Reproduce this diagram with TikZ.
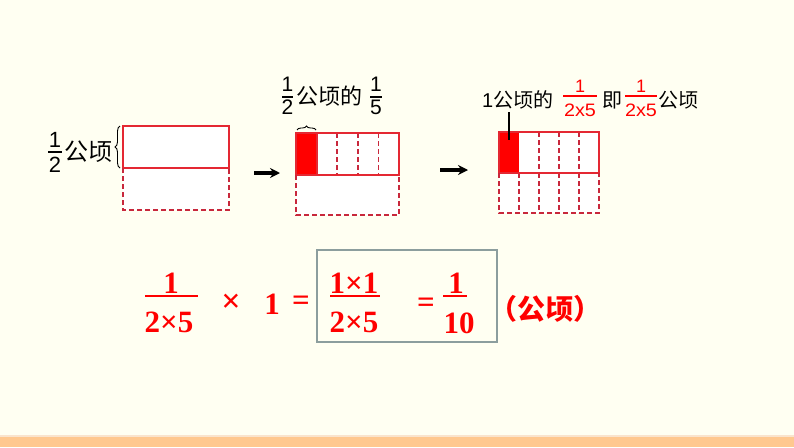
\documentclass[tikz,border=0pt]{standalone}
\usepackage{fontspec}
\setmainfont{Liberation Sans}
\newfontfamily\cjk{Noto Sans CJK SC}
\newfontfamily\tnr{Liberation Serif}
\usetikzlibrary{decorations.pathreplacing,arrows.meta}
\newcommand\fsz[1]{\fontsize{#1}{#1}\selectfont}
\definecolor{bg}{RGB}{255,255,242}
\definecolor{boxred}{RGB}{228,40,50}
\definecolor{dashred}{RGB}{200,40,60}
\definecolor{framegray}{RGB}{140,158,158}
\definecolor{barorange}{RGB}{255,200,143}
\definecolor{barlight}{RGB}{250,228,205}
\tikzset{
  txt/.style={inner sep=0pt, outer sep=0pt},
  solidbox/.style={draw=boxred, line width=1.9pt},
  dashline/.style={draw=dashred, line width=1.5pt, dash pattern=on 5pt off 3pt},
  fracbar/.style={line width=1.4pt},
  redbar/.style={draw=red, line width=1.6pt},
  eqbar/.style={draw=red, line width=2.8pt},
  eq/.style={txt, text=red, font=\tnr\bfseries\fsz{31}},
  bracestyle/.style={decorate, decoration={brace, amplitude=5pt}, line width=0.9pt},
  flow/.style={-{Stealth[length=10pt,width=10pt]}, line width=3.6pt}
}
\begin{document}
\begin{tikzpicture}[x=1pt,y=-1pt]
\useasboundingbox (0,0) rectangle (794,447);
\fill[bg] (0,0) rectangle (794,447);
\fill[barlight] (0,435) rectangle (794,437);
\fill[barorange] (0,437) rectangle (794,447);

% ---- picture 1
\node[txt, font=\fsz{22}] (a1n) at (55,140) {1};
\node[txt, font=\fsz{22}] (a1d) at (55,165) {2};
\draw[fracbar] (48,152) -- (62,152);
\node[txt, font=\cjk\fsz{24}, anchor=west] (a1t) at (64,152) {公顷};
\fill[white] (123,126) rectangle (229,210);
\draw[solidbox] (123,126) rectangle (229,168);
\draw[dashline] (123,168) -- (123,210) -- (229,210) -- (229,168);
\coordinate (b1a) at (120,168);
\coordinate (b1b) at (120,126);
\draw[bracestyle] (b1a) -- (b1b);

% ---- arrow 1
\coordinate (r1a) at (254,173);
\coordinate (r1b) at (280,173);
\draw[flow] (r1a) -- (r1b);

% ---- picture 2
\node[txt, font=\fsz{21}] (a2n) at (287.5,84) {1};
\node[txt, font=\fsz{21}] (a2d) at (287.5,107.5) {2};
\draw[fracbar] (282,97) -- (293,97);
\node[txt, font=\cjk\fsz{22}, anchor=west] (a2t) at (296,96) {公顷的};
\node[txt, font=\fsz{21}] (a2n2) at (376,84) {1};
\node[txt, font=\fsz{21}] (a2d2) at (376,107.5) {5};
\draw[fracbar] (370,97) -- (382,97);
\fill[white] (296,133) rectangle (399,215);
\fill[red] (296,133) rectangle (316.6,175);
\foreach \xx in {337.2,357.8,378.4} \draw[dashline] (\xx,133) -- (\xx,175);
\draw[solidbox] (296,133) rectangle (399,175);
\draw[solidbox] (316.6,133) -- (316.6,175);
\draw[dashline] (296,175) -- (296,215) -- (399,215) -- (399,175);
\coordinate (b2a) at (297,130);
\coordinate (b2b) at (316,130);
\draw[bracestyle, decoration={amplitude=4pt}] (b2a) -- (b2b);

% ---- arrow 2
\coordinate (r2a) at (440,170);
\coordinate (r2b) at (468,170);
\draw[flow] (r2a) -- (r2b);

% ---- picture 3
\node[txt, font=\fsz{20}, anchor=west] (a3a) at (482,100) {1\cjk 公顷的};
\node[txt, font=\fsz{18}, text=red] (a3n) at (580,86) {1};
\node[txt, font=\fsz{18}, text=red] (a3d) at (580,110.5) {\scalebox{1.1}[1]{2x5}};
\draw[redbar] (563,96) -- (597,96);
\node[txt, font=\cjk\fsz{20}, anchor=west] (a3j) at (602,100) {即};
\node[txt, font=\fsz{18}, text=red] (a3n2) at (641,86) {1};
\node[txt, font=\fsz{18}, text=red] (a3d2) at (641,110.5) {\scalebox{1.1}[1]{2x5}};
\draw[redbar] (625,96) -- (657,96);
\node[txt, font=\cjk\fsz{20}, anchor=west] (a3t) at (658,100) {公顷};
\fill[white] (499,132) rectangle (599,213);
\fill[red] (499,132) rectangle (519,173);
\foreach \xx in {519,539,559,579} \draw[dashline] (\xx,173) -- (\xx,213);
\foreach \xx in {539,559,579} \draw[dashline] (\xx,132) -- (\xx,173);
\draw[solidbox] (499,132) rectangle (599,173);
\draw[dashline] (499,173) -- (499,213) -- (599,213) -- (599,173);
\coordinate (p3) at (509,140);
\draw[line width=1.4pt] (509,112) -- (p3);

% ---- equation
\node[eq] (e1n) at (171,283) {1};
\node[eq] (e1d) at (169,322) {2×5};
\draw[eqbar] (145,296) -- (198,296);
\node[eq, font=\tnr\bfseries\fsz{34}] (etimes) at (231,303) {×};
\node[eq] (eone) at (272,304) {1};
\node[eq] (eeq1) at (301,303) {=};
\node[draw=framegray, line width=2pt, minimum width=180pt, minimum height=92pt, inner sep=0pt] (frame) at (407,296) {};
\node[eq] (e2n) at (354,283) {1×1};
\node[eq] (e2d) at (354,322) {2×5};
\draw[eqbar] (330,296) -- (380,296);
\node[eq] (eeq2) at (426,305) {=};
\node[eq] (e3n) at (456,283) {1};
\node[eq] (e3d) at (459,323) {10};
\draw[eqbar] (443,296) -- (467,296);
\node[txt, text=red, font=\cjk\bfseries\fsz{28}] (eunit) at (545,309) {（公顷）};
\end{tikzpicture}
\end{document}
